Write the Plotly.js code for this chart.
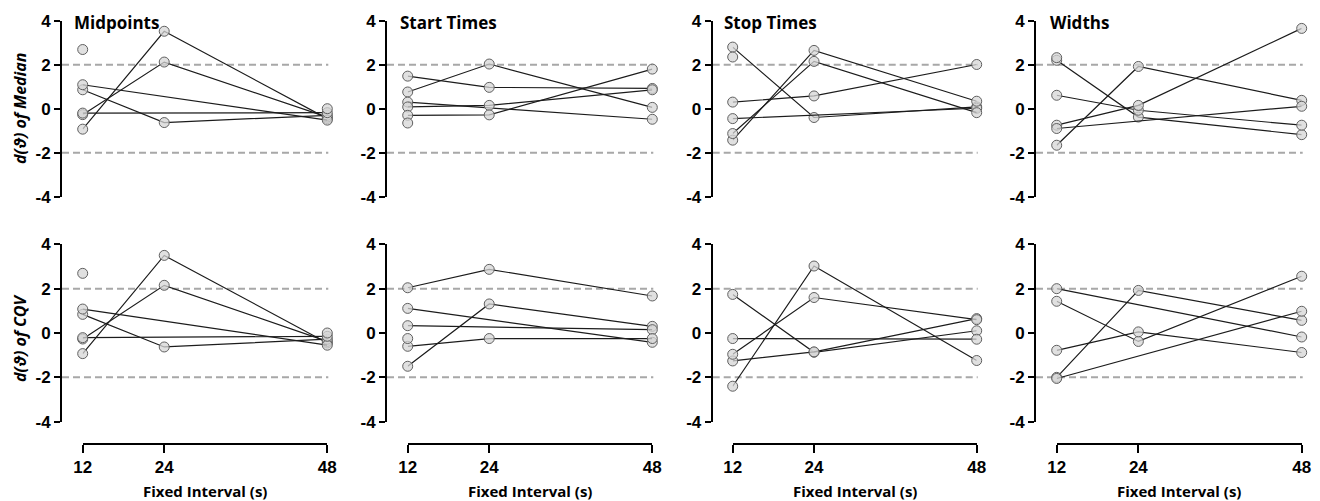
<!DOCTYPE html>
<html>
<head>
<meta charset="utf-8">
<script src="https://cdn.plot.ly/plotly-3.0.1.min.js"></script>
<style>html,body{margin:0;padding:0;background:#fff;}#chart{width:1320px;height:501px;}</style>
</head>
<body>
<div id="chart"></div>
<script>
// ---------- data ----------
const intervals = [12, 24, 48];
const panelTitles = ['Midpoints', 'Start Times', 'Stop Times', 'Widths'];
const rowTitles = ['d(\u03D1) of Median', 'd(\u03D1) of CQV'];
const xTitle = 'Fixed Interval (s)';
const yTickVals = [-4, -2, 0, 2, 4];
const yTickText = ['-4', '-2', '0', '2', '4'];
const refLevels = [-2, 2];

// each row: one subject, values at 12 / 24 / 48 s (null = missing)
const midpointsMedian = [[-0.93, 3.52, -0.45], [-0.27, 2.12, -0.38], [0.86, -0.63, -0.3], [1.09, null, -0.52], [-0.2, null, -0.18]];
const midpointsMedianLone = [[2.69, null, null], [null, null, 0.0]];
const startMedian = [[0.76, 2.03, 0.06], [1.48, 0.97, 0.92], [0.30, null, -0.48], [0.08, 0.15, 0.86], [-0.30, -0.28, 1.8]];
const startMedianLone = [[-0.65, null, null]];
const stopMedian = [[2.8, -0.40, 0.08], [0.30, 0.58, 2.01], [-0.45, null, 0.02], [-1.43, 2.65, 0.34], [-1.13, 2.15, -0.18]];
const stopMedianLone = [[2.35, null, null]];
const widthsMedian = [[-1.66, 1.92, 0.38], [2.2, -0.38, -1.18], [0.61, -0.07, -0.75], [-0.75, 0.15, 3.65], [-0.9, null, 0.11]];
const widthsMedianLone = [[2.32, null, null]];

const midpointsCQV = [[-0.93, 3.5, -0.45], [-0.27, 2.15, -0.38], [0.84, -0.63, -0.28], [1.08, null, -0.55], [-0.21, null, -0.15]];
const midpointsCQVLone = [[2.69, null, null], [null, null, 0.0]];
const startCQV = [[2.04, 2.87, 1.67], [-1.5, 1.31, 0.3], [1.11, null, -0.42], [0.33, null, 0.15], [-0.6, -0.25, -0.25]];
const startCQVLone = [[-0.25, null, null]];
const stopCQV = [[1.74, -0.87, 0.1], [-1.26, -0.85, 0.65], [-2.4, 3.02, -1.24], [-0.96, 1.6, 0.6], [-0.25, null, -0.28]];
const stopCQVLone = [];
const widthsCQV = [[2.0, null, -0.18], [1.43, -0.38, 2.56], [-0.78, 0.05, -0.88], [-2.0, 1.92, 0.57], [-2.05, null, 0.98]];
const widthsCQVLone = [];

const panels = [
  [[midpointsMedian, midpointsMedianLone], [startMedian, startMedianLone], [stopMedian, stopMedianLone], [widthsMedian, widthsMedianLone]],
  [[midpointsCQV, midpointsCQVLone], [startCQV, startCQVLone], [stopCQV, stopCQVLone], [widthsCQV, widthsCQVLone]]
];

// ---------- layout geometry (pixels) ----------
const W = 1320, H = 501;
const x12px = [82.7, 407.7, 732.7, 1056.7];
const x48px = [327.3, 652.3, 976.7, 1301.7];
const yAxisPx = [61, 386, 711.7, 1035];
const rowTopPx = [20.7, 244.3];
const rowBotPx = [196.7, 421.7];
const xAxisLinePx = 444;
const titleXPx = [72, 398, 722, 1048];

const px = v => v / W;
const py = v => 1 - v / H;

const markerStyle = {symbol: 'circle', size: 10, color: 'rgba(214,214,214,0.75)', line: {color: '#606060', width: 1}};
const lineStyle = {color: '#1c1c1c', width: 1.2};
const tickFont = {family: 'Liberation Sans, Arial, sans-serif', size: 17, color: '#000', weight: 700};

const traces = [];
const layout = {
  width: W, height: H, autosize: false,
  margin: {l: 0, r: 0, t: 0, b: 0},
  paper_bgcolor: '#fff', plot_bgcolor: 'rgba(0,0,0,0)',
  showlegend: false,
  shapes: [], annotations: []
};

for (let r = 0; r < 2; r++) {
  for (let p = 0; p < 4; p++) {
    const n = r * 4 + p + 1;
    const xa = 'x' + n, ya = 'y' + n;
    const [subjects, lone] = panels[r][p];
    subjects.forEach(s => traces.push({
      type: 'scatter', mode: 'lines+markers', x: intervals, y: s,
      xaxis: xa, yaxis: ya, connectgaps: true, cliponaxis: false,
      line: lineStyle, marker: markerStyle, hoverinfo: 'x+y'
    }));
    lone.forEach(s => traces.push({
      type: 'scatter', mode: 'markers', x: intervals, y: s,
      xaxis: xa, yaxis: ya, cliponaxis: false, marker: markerStyle, hoverinfo: 'x+y'
    }));

    const xaxis = {
      domain: [px(x12px[p]), px(x48px[p])], range: [12, 48],
      showgrid: false, zeroline: false, fixedrange: true
    };
    if (r === 1) {
      Object.assign(xaxis, {
        anchor: 'free', position: py(xAxisLinePx),
        showline: true, linecolor: '#000', linewidth: 2,
        ticks: 'outside', ticklen: 8, tickwidth: 2, tickcolor: '#000',
        tickvals: intervals, ticktext: intervals.map(String), tickfont: tickFont
      });
    } else {
      Object.assign(xaxis, {anchor: ya, showline: false, ticks: '', showticklabels: false});
    }
    layout['xaxis' + n] = xaxis;
    layout['yaxis' + n] = {
      domain: [py(rowBotPx[r]), py(rowTopPx[r])], range: [-4, 4],
      anchor: 'free', position: px(yAxisPx[p]),
      showline: true, linecolor: '#000', linewidth: 2,
      ticks: 'outside', ticklen: 6, tickwidth: 2, tickcolor: '#000',
      tickvals: yTickVals, ticktext: yTickText, tickfont: tickFont,
      showgrid: false, zeroline: false, fixedrange: true
    };
    refLevels.forEach(lv => layout.shapes.push({
      type: 'line', xref: 'paper', yref: ya,
      x0: px(yAxisPx[p] + 1), x1: px(x48px[p] + 1), y0: lv, y1: lv,
      line: {color: '#a8a8a8', width: 2, dash: '7px,4px'}, layer: 'below'
    }));
    if (r === 0) {
      layout.annotations.push({
        text: panelTitles[p], xref: 'paper', yref: 'paper',
        x: px(titleXPx[p]), y: py(23), xanchor: 'left', yanchor: 'middle', showarrow: false,
        font: {family: 'Open Sans, sans-serif', size: 17, color: '#000', weight: 700}
      });
    } else {
      layout.annotations.push({
        text: xTitle, xref: 'paper', yref: 'paper',
        x: px((x12px[p] + x48px[p]) / 2), y: py(491), xanchor: 'center', yanchor: 'middle', showarrow: false,
        font: {family: 'Open Sans, sans-serif', size: 15, color: '#000', weight: 700}
      });
    }
  }
}
const yTitleCenters = [108, 338];
rowTitles.forEach((t, r) => layout.annotations.push({
  text: '<i>' + t + '</i>', xref: 'paper', yref: 'paper',
  x: px(20), y: py(yTitleCenters[r]), xanchor: 'center', yanchor: 'middle',
  textangle: -90, showarrow: false,
  font: {family: 'Open Sans, sans-serif', size: 16, color: '#000', weight: 700}
}));

Plotly.newPlot('chart', traces, layout, {displayModeBar: false, staticPlot: true});
</script>
</body>
</html>
